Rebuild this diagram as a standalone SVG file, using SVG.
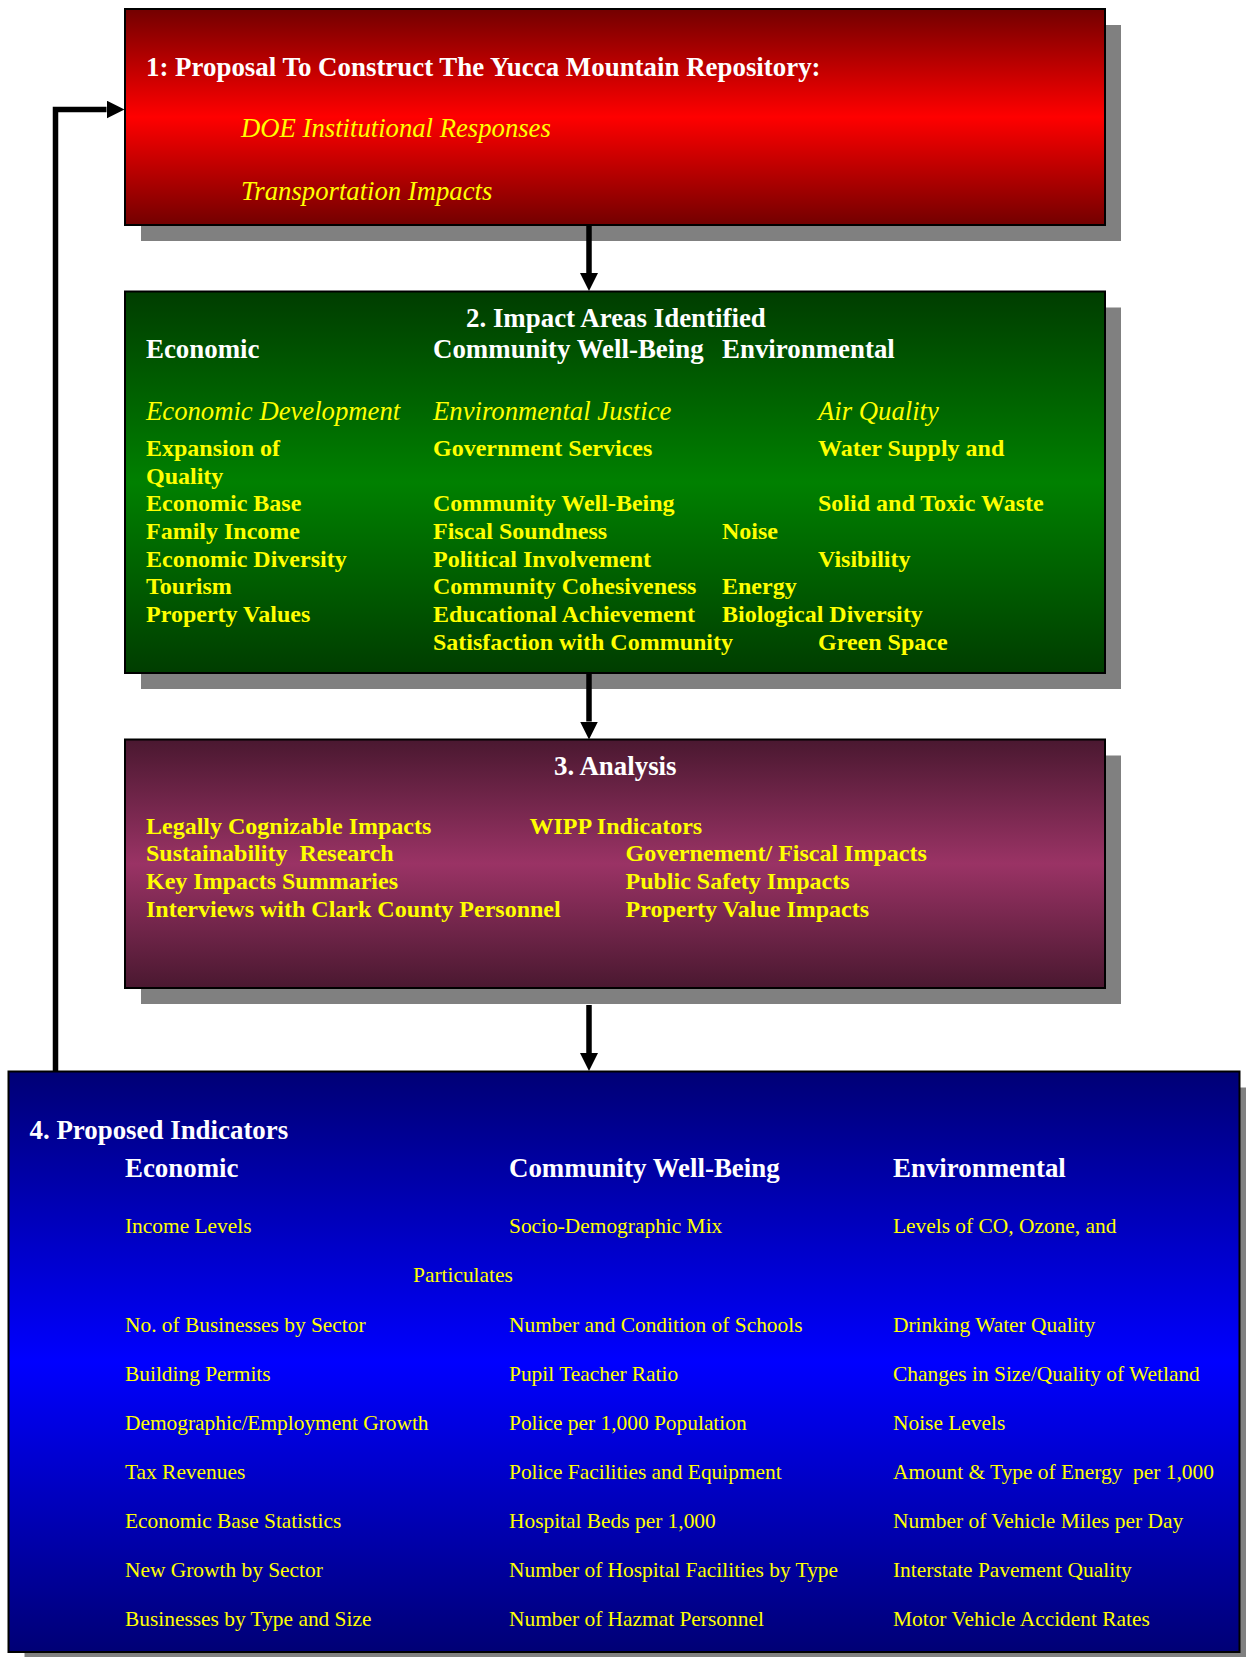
<svg xmlns="http://www.w3.org/2000/svg" width="1246" height="1657" viewBox="0 0 1246 1657">
<defs>
<linearGradient id="gRed" x1="0" y1="0" x2="0" y2="1">
<stop offset="0" stop-color="#730000"/><stop offset="0.5" stop-color="#ff0000"/><stop offset="1" stop-color="#730000"/>
</linearGradient>
<linearGradient id="gGreen" x1="0" y1="0" x2="0" y2="1">
<stop offset="0" stop-color="#003d00"/><stop offset="0.5" stop-color="#008000"/><stop offset="1" stop-color="#003d00"/>
</linearGradient>
<linearGradient id="gMaroon" x1="0" y1="0" x2="0" y2="1">
<stop offset="0" stop-color="#4a1830"/><stop offset="0.5" stop-color="#9a3365"/><stop offset="1" stop-color="#4a1830"/>
</linearGradient>
<linearGradient id="gBlue" x1="0" y1="0" x2="0" y2="1">
<stop offset="0" stop-color="#000075"/><stop offset="0.5" stop-color="#0000ff"/><stop offset="1" stop-color="#000075"/>
</linearGradient>
<marker id="arrow" markerUnits="userSpaceOnUse" markerWidth="18" markerHeight="18" refX="0" refY="9" orient="auto">
<path d="M0,0 L18,9 L0,18 z" fill="#000"/>
</marker>
</defs>
<style>
.shadow{fill:#808080;}
.box{stroke:#000;stroke-width:2;}
text{font-family:"Liberation Serif","Times New Roman",serif;}
.h{font-size:26.9px;font-weight:bold;fill:#fff;}
.it{font-size:26.7px;font-style:italic;fill:#ffff00;}
.b{font-size:24px;font-weight:bold;fill:#ffff00;}
.r{font-size:21.4px;fill:#ffff00;}
.conn{fill:none;stroke:#000;stroke-width:5.5;}
</style>

<g id="node1">
<rect class="shadow" x="141" y="25" width="980" height="216"/>
<rect class="box" x="125" y="9" width="980" height="216" fill="url(#gRed)"/>
<text class="h" x="146" y="76">1: Proposal To Construct The Yucca Mountain Repository:</text>
<text class="it" x="241" y="137">DOE Institutional Responses</text>
<text class="it" x="241" y="199.5">Transportation Impacts</text>
</g>

<g id="node2">
<rect class="shadow" x="141" y="307.5" width="980" height="381.5"/>
<rect class="box" x="125" y="291.5" width="980" height="381.5" fill="url(#gGreen)"/>
<text class="h" x="466" y="326.5">2. Impact Areas Identified</text>
<text class="h" x="146" y="358.3">Economic</text>
<text class="h" x="433" y="358.3">Community Well-Being</text>
<text class="h" x="722" y="358.3">Environmental</text>
<text class="it" x="146" y="419.5">Economic Development</text>
<text class="it" x="433" y="419.5">Environmental Justice</text>
<text class="it" x="818" y="419.5">Air Quality</text>
<text class="b" x="146" y="455.5">Expansion of</text>
<text class="b" x="146" y="483.5">Quality</text>
<text class="b" x="146" y="511">Economic Base</text>
<text class="b" x="146" y="539">Family Income</text>
<text class="b" x="146" y="566.5">Economic Diversity</text>
<text class="b" x="146" y="594">Tourism</text>
<text class="b" x="146" y="621.5">Property Values</text>
<text class="b" x="433" y="455.5">Government Services</text>
<text class="b" x="433" y="511">Community Well-Being</text>
<text class="b" x="433" y="539">Fiscal Soundness</text>
<text class="b" x="433" y="566.5">Political Involvement</text>
<text class="b" x="433" y="594">Community Cohesiveness</text>
<text class="b" x="433" y="621.5">Educational Achievement</text>
<text class="b" x="433" y="649.5">Satisfaction with Community</text>
<text class="b" x="722" y="539">Noise</text>
<text class="b" x="722" y="594">Energy</text>
<text class="b" x="722" y="621.5">Biological Diversity</text>
<text class="b" x="818" y="455.5">Water Supply and</text>
<text class="b" x="818" y="511">Solid and Toxic Waste</text>
<text class="b" x="818" y="566.5">Visibility</text>
<text class="b" x="818" y="649.5">Green Space</text>
</g>

<g id="node3">
<rect class="shadow" x="141" y="755.5" width="980" height="248.5"/>
<rect class="box" x="125" y="739.5" width="980" height="248.5" fill="url(#gMaroon)"/>
<text class="h" x="554" y="774.5">3. Analysis</text>
<text class="b" x="146" y="833.5">Legally Cognizable Impacts</text>
<text class="b" x="146" y="861" xml:space="preserve">Sustainability  Research</text>
<text class="b" x="146" y="888.5">Key Impacts Summaries</text>
<text class="b" x="146" y="916.5">Interviews with Clark County Personnel</text>
<text class="b" x="529.5" y="833.5">WIPP Indicators</text>
<text class="b" x="625.5" y="861">Governement/ Fiscal Impacts</text>
<text class="b" x="625.5" y="888.5">Public Safety Impacts</text>
<text class="b" x="625.5" y="916.5">Property Value Impacts</text>
</g>

<g id="node4">
<rect class="shadow" x="24.5" y="1087.5" width="1231" height="580.5"/>
<rect class="box" x="8.5" y="1071.5" width="1231" height="580.5" fill="url(#gBlue)"/>
<text class="h" x="29.5" y="1139">4. Proposed Indicators</text>
<text class="h" x="125" y="1177">Economic</text>
<text class="h" x="509" y="1177">Community Well-Being</text>
<text class="h" x="893" y="1177">Environmental</text>
<text class="r" x="125" y="1233">Income Levels</text>
<text class="r" x="509" y="1233">Socio-Demographic Mix</text>
<text class="r" x="893" y="1233">Levels of CO, Ozone, and</text>
<text class="r" x="413" y="1282">Particulates</text>
<text class="r" x="125" y="1331.5">No. of Businesses by Sector</text>
<text class="r" x="509" y="1331.5">Number and Condition of Schools</text>
<text class="r" x="893" y="1331.5">Drinking Water Quality</text>
<text class="r" x="125" y="1380.5">Building Permits</text>
<text class="r" x="509" y="1380.5">Pupil Teacher Ratio</text>
<text class="r" x="893" y="1380.5">Changes in Size/Quality of Wetland</text>
<text class="r" x="125" y="1429.5">Demographic/Employment Growth</text>
<text class="r" x="509" y="1429.5">Police per 1,000 Population</text>
<text class="r" x="893" y="1429.5">Noise Levels</text>
<text class="r" x="125" y="1478.5">Tax Revenues</text>
<text class="r" x="509" y="1478.5">Police Facilities and Equipment</text>
<text class="r" x="893" y="1478.5" xml:space="preserve">Amount &amp; Type of Energy  per 1,000</text>
<text class="r" x="125" y="1527.5">Economic Base Statistics</text>
<text class="r" x="509" y="1527.5">Hospital Beds per 1,000</text>
<text class="r" x="893" y="1527.5">Number of Vehicle Miles per Day</text>
<text class="r" x="125" y="1576.5">New Growth by Sector</text>
<text class="r" x="509" y="1576.5">Number of Hospital Facilities by Type</text>
<text class="r" x="893" y="1576.5">Interstate Pavement Quality</text>
<text class="r" x="125" y="1625.5">Businesses by Type and Size</text>
<text class="r" x="509" y="1625.5">Number of Hazmat Personnel</text>
<text class="r" x="893" y="1625.5">Motor Vehicle Accident Rates</text>
</g>

<g id="connectors">
<path class="conn" d="M589,225 L589,273" marker-end="url(#arrow)"/>
<path class="conn" d="M589,673 L589,721.5" marker-end="url(#arrow)"/>
<path class="conn" d="M589,1005 L589,1053" marker-end="url(#arrow)"/>
<path class="conn" d="M55.5,1071.5 L55.5,109.5 L106.5,109.5" marker-end="url(#arrow)"/>
</g>
</svg>
